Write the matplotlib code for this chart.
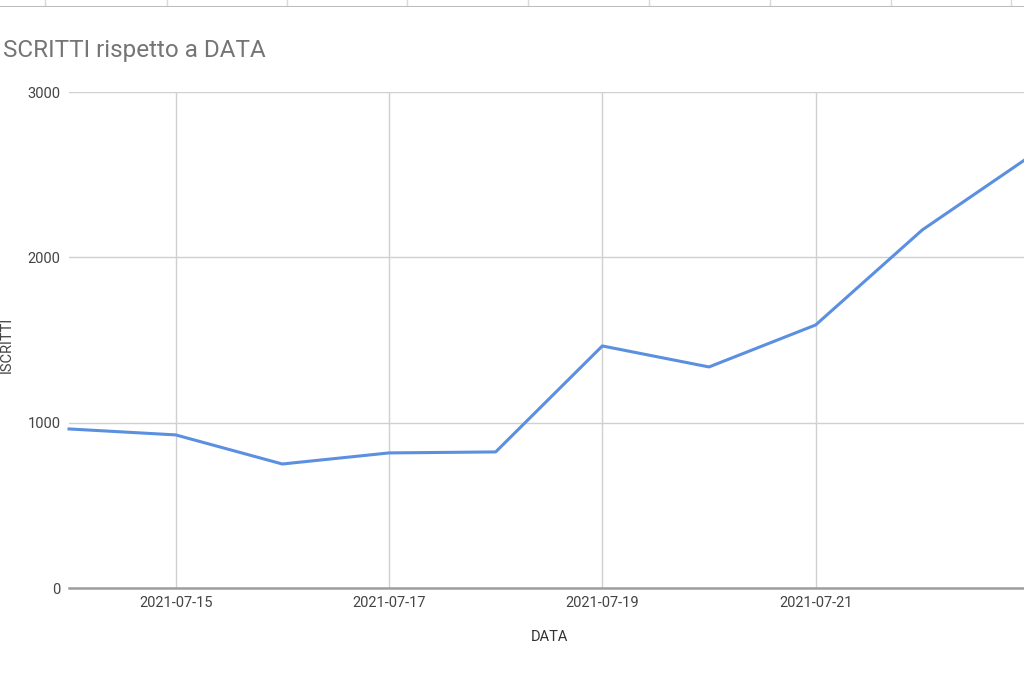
import matplotlib
matplotlib.use("Agg")
import matplotlib.pyplot as plt
import matplotlib.dates as mdates
import numpy as np
import pandas as pd

dates = pd.to_datetime(["2021-07-14", "2021-07-15", "2021-07-16", "2021-07-17", "2021-07-18",
                        "2021-07-19", "2021-07-20", "2021-07-21", "2021-07-22", "2021-07-23"])
iscritti = [962, 926, 750, 817, 823, 1464, 1337, 1591, 2166, 2607]
yticks = [0, 1000, 2000, 3000]
xtick_dates = pd.to_datetime(["2021-07-15", "2021-07-17", "2021-07-19", "2021-07-21"])
xgrid_dates = pd.to_datetime(["2021-07-15", "2021-07-17", "2021-07-19", "2021-07-21", "2021-07-23"])

plt.rcParams['font.family'] = ['Roboto', 'DejaVu Sans']

W, H = 1024, 680
fig = plt.figure(figsize=(W / 100, H / 100), dpi=100)
fig.patch.set_facecolor("white")

# spreadsheet grid strip at top
strip = fig.add_axes([0, (H - 7) / H, 1, 7 / H])
strip.set_xlim(0, W)
strip.set_ylim(0, 7)
strip.axis("off")
for x in [45, 167, 287, 407, 528, 649, 770, 891, 1011]:
    strip.plot([x, x], [0, 7], color="#d9d9d9", lw=1)
strip.plot([0, W], [0.5, 0.5], color="#bdbdbd", lw=1.5)

left_px, right_px = 69, 1029
bottom_px, top_px = 588, 92
ax = fig.add_axes([left_px / W, (H - bottom_px) / H, (right_px - left_px) / W, (bottom_px - top_px) / H])

ax.plot(dates, iscritti, color="#5b8fe0", lw=2.2, solid_joinstyle="round", zorder=3, clip_on=False)

ax.set_xlim(dates[0], dates[-1])
ax.set_ylim(0, 3000)
ax.set_yticks(yticks)
ax.set_yticklabels([str(v) for v in yticks])
ax.set_xticks(xtick_dates)
ax.xaxis.set_major_formatter(mdates.DateFormatter("%Y-%m-%d"))

ax.grid(axis="y", color="#d0d0d0", lw=1)
for d in xgrid_dates:
    ax.axvline(d, color="#d0d0d0", lw=1, zorder=1)
ax.tick_params(length=0, labelsize=10.5, colors="#444444", pad=6)
ax.tick_params(axis="y", pad=6)
for s in ["top", "right", "left"]:
    ax.spines[s].set_visible(False)
ax.spines["bottom"].set_color("#9e9e9e")
ax.spines["bottom"].set_linewidth(1.8)
ax.spines["bottom"].set_zorder(2)

ax.set_xlabel("DATA", fontsize=10.5, color="#333333", labelpad=14)

fig.text(3 / W, (H - 51) / H, "SCRITTI rispetto a DATA", fontsize=17.5, color="#757575",
         ha="left", va="center")
fig.text(7 / W, (H - 345) / H, "ISCRITTI", fontsize=10.5, color="#444444",
         rotation=90, ha="center", va="center")

fig.savefig("out.png", dpi=100, facecolor="white")
